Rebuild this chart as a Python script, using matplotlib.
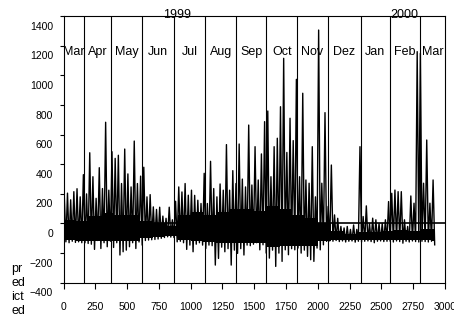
import numpy as np
import matplotlib.pyplot as plt
import matplotlib.transforms as mtransforms

plt.rcParams['font.family'] = ['Liberation Sans', 'DejaVu Sans']

# month labels and the month boundaries (sample index)
months = ['Mar', 'Apr', 'May', 'Jun', 'Jul', 'Aug', 'Sep', 'Oct', 'Nov', 'Dez', 'Jan', 'Feb', 'Mar']
month_edges = [0, 164, 371, 620, 871, 1113, 1359, 1595, 1838, 2078, 2337, 2567, 2803, 3000]
years = ['1999', '2000']
year_pos = [890, 2677]

# series: per 25-sample block, the peak and the trough
peaks = [180, 205, 160, 215, 235, 180, 330, 200, 478, 316,
         170, 377, 236, 684, 225, 485, 440, 461, 270, 503,
         335, 247, 557, 270, 320, 380, 180, 195, 112, 95,
         110, 50, 35, 110, 25, 150, 247, 213, 270, 191,
         225, 190, 157, 135, 339, 135, 420, 236, 180, 267,
         225, 533, 225, 357, 270, 537, 300, 247, 665, 260,
         519, 294, 470, 688, 760, 316, 519, 576, 789, 1116,
         480, 711, 560, 974, 316, 880, 294, 272, 519, 180,
         1307, 272, 749, 115, 395, 58, 35, -20, -30, -20,
         -40, -10, -40, 519, 47, 119, 0, 36, 25, 0,
         0, 25, 148, 204, 226, 215, 215, 25, -20, 186,
         137, 1161, 1150, 272, 564, 137, 294]
troughs = [-124, -130, -120, -128, -124, -130, -130, -135, -140, -175,
           -115, -169, -130, -157, -120, -162, -130, -213, -191, -180,
           -157, -130, -169, -125, -146, -115, -112, -110, -108, -105,
           -100, -95, -90, -92, -95, -124, -120, -130, -175, -146,
           -191, -140, -130, -146, -169, -146, -150, -281, -236, -160,
           -191, -170, -281, -180, -202, -170, -213, -146, -150, -140,
           -130, -178, -144, -200, -234, -180, -290, -200, -256, -178,
           -211, -170, -178, -166, -200, -180, -222, -245, -256, -166,
           -178, -144, -121, -118, -120, -115, -122, -118, -125, -120,
           -118, -126, -120, -125, -120, -118, -122, -130, -120, -118,
           -122, -120, -120, -125, -118, -122, -133, -120, -125, -118,
           -122, -125, -120, -122, -125, -120, -144]

# the dense core of the trace, per 100-sample block (top / bottom edge)
core_top = [25, 15, 50, 70, 60, 60, 20, 0, -20, 60,
            80, 60, 80, 100, 100, 85, 120, 100, 60, 40,
            0, -50, -70, -60, -60, -50, -45, -50, -35, -35]
core_bottom = [-112, -115, -115, -115, -120, -120, -100, -92, -82, -110,
               -115, -125, -135, -135, -130, -135, -160, -155, -155, -155,
               -120, -110, -110, -110, -110, -110, -112, -112, -112, -115]

step = 25
t = np.arange(len(peaks)) * step
xs = np.column_stack([t + 6.25, t + 18.75]).ravel()
ys = np.column_stack([peaks, troughs]).ravel()
block = np.append(np.arange(len(core_top)) * 100, 2925)

fig = plt.figure(figsize=(4.54, 3.2), dpi=100)
ax = fig.add_axes([0.1399, 0.1166, 0.8403, 0.8325])

ax.fill_between(block, core_bottom + core_bottom[-1:], core_top + core_top[-1:],
                step='post', color='black', lw=0)
ax.plot(xs, ys, color='black', lw=1.0)
for e in month_edges[1:-1]:
    ax.axvline(e, color='black', lw=0.8)
ax.axhline(0, color='black', lw=1.2)

ax.set_xlim(0, 3000)
ax.set_ylim(-400, 1400)
ax.set_xticks(np.arange(0, 3001, 250))
ax.set_yticks(np.arange(-400, 1401, 200))
ax.tick_params(axis='x', direction='out', length=4, width=0.8, pad=10, labelsize=7.5)
ax.tick_params(axis='y', direction='out', length=3, width=0.8, pad=4.5, labelsize=7.5)
for s in ax.spines.values():
    s.set_linewidth(0.8)

# y labels sit a bit below their ticks in the original
shift = mtransforms.ScaledTranslation(0, -9.5 / 100, fig.dpi_scale_trans)
for lab in ax.get_yticklabels():
    lab.set_transform(lab.get_transform() + shift)

for i, m in enumerate(months):
    mid = (month_edges[i] + month_edges[i + 1]) / 2
    ax.text(mid, 1160, m, ha='center', va='center', fontsize=9)
for yr, p in zip(years, year_pos):
    ax.text(p, 1410, yr, ha='center', va='center', fontsize=9, clip_on=False)

fig.text(11 / 454, 1 - 290 / 320, 'pr\ned\nict\ned', ha='left', va='center',
         fontsize=9, linespacing=1.2, multialignment='left')

fig.savefig('out.png', dpi=100)
